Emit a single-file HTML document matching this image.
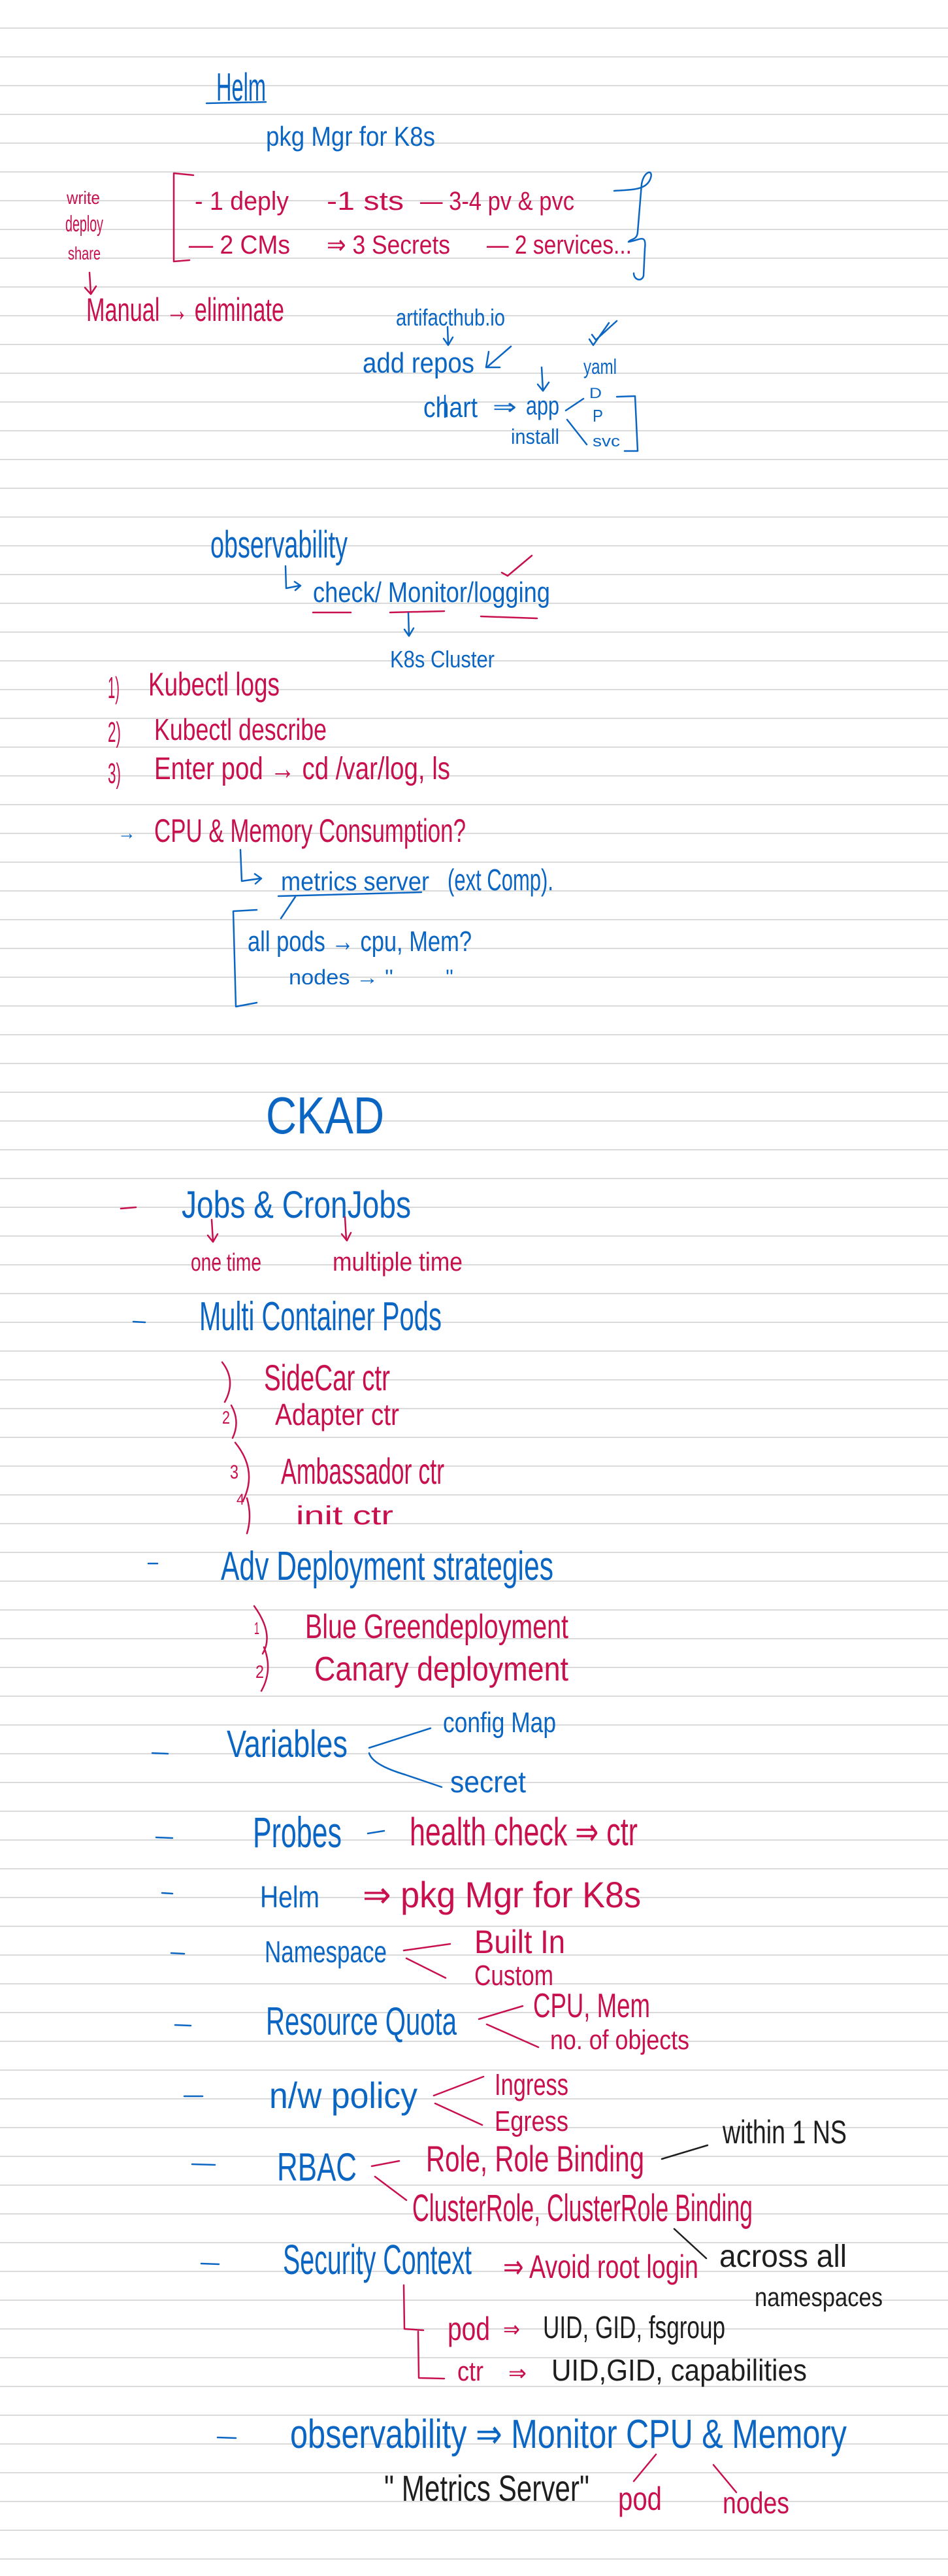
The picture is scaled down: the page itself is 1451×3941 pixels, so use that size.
<!DOCTYPE html>
<html><head><meta charset="utf-8"><style>
html,body{margin:0;padding:0;background:#fff}
svg{display:block}
text{font-family:"Liberation Sans",sans-serif}
.b{fill:#0b66c3}.r{fill:#c8104d}.k{fill:#1e1e1e}
.sb{stroke:#0b66c3;fill:none;stroke-width:2.5;stroke-linecap:round;stroke-linejoin:round}
.sr{stroke:#c8104d;fill:none;stroke-width:2.5;stroke-linecap:round;stroke-linejoin:round}
.sk{stroke:#1e1e1e;fill:none;stroke-width:2.5;stroke-linecap:round}
</style></head><body>
<svg width="1451" height="3941" viewBox="0 0 1451 3941" xmlns="http://www.w3.org/2000/svg" lengthAdjust="spacingAndGlyphs">
<g stroke="#dadada" stroke-width="2" id="lines">
</g>
<script>/* no-op */</script>
<g>
<!-- ruled lines -->
<path stroke="#dadada" stroke-width="2" fill="none" d="
M0 43H1451M0 87H1451M0 131H1451M0 175H1451M0 219H1451M0 263H1451M0 307H1451M0 351H1451M0 395H1451M0 439H1451
M0 483H1451M0 527H1451M0 571H1451M0 615H1451M0 659H1451M0 703H1451M0 747H1451M0 791H1451M0 835H1451M0 879H1451
M0 923H1451M0 967H1451M0 1011H1451M0 1055H1451M0 1099H1451M0 1143H1451M0 1187H1451M0 1231H1451M0 1275H1451M0 1319H1451
M0 1363H1451M0 1407H1451M0 1451H1451M0 1495H1451M0 1539H1451M0 1583H1451M0 1627H1451M0 1671H1451M0 1715H1451M0 1759H1451
M0 1803H1451M0 1847H1451M0 1891H1451M0 1935H1451M0 1979H1451M0 2023H1451M0 2067H1451M0 2111H1451M0 2155H1451M0 2199H1451
M0 2243H1451M0 2287H1451M0 2331H1451M0 2375H1451M0 2419H1451M0 2463H1451M0 2507H1451M0 2551H1451M0 2595H1451M0 2639H1451
M0 2683H1451M0 2727H1451M0 2771H1451M0 2815H1451M0 2859H1451M0 2903H1451M0 2947H1451M0 2991H1451M0 3035H1451M0 3079H1451
M0 3123H1451M0 3167H1451M0 3211H1451M0 3255H1451M0 3299H1451M0 3343H1451M0 3387H1451M0 3431H1451M0 3475H1451M0 3519H1451
M0 3563H1451M0 3607H1451M0 3651H1451M0 3695H1451M0 3739H1451M0 3783H1451M0 3827H1451M0 3871H1451M0 3915H1451"/>
</g>

<!-- HELM section -->
<text class="b" x="331" y="154" font-size="60" textLength="76" lengthAdjust="spacingAndGlyphs">Helm</text>
<path class="sb" d="M316 158 L407 156"/>
<text class="b" x="407" y="223" font-size="42" textLength="259" lengthAdjust="spacingAndGlyphs">pkg Mgr for K8s</text>
<text class="r" x="102" y="312" font-size="28" textLength="51" lengthAdjust="spacingAndGlyphs">write</text>
<text class="r" x="100" y="354" font-size="34" textLength="58" lengthAdjust="spacingAndGlyphs">deploy</text>
<text class="r" x="104" y="397" font-size="28" textLength="50" lengthAdjust="spacingAndGlyphs">share</text>
<path class="sr" d="M296 268 L266 265 L266 400 L290 398"/>
<text class="r" x="298" y="321" font-size="40" textLength="144" lengthAdjust="spacingAndGlyphs">- 1 deply</text>
<text class="r" x="500" y="321" font-size="40" textLength="118" lengthAdjust="spacingAndGlyphs">-1 sts</text>
<text class="r" x="643" y="321" font-size="40" textLength="236" lengthAdjust="spacingAndGlyphs">— 3-4 pv &amp; pvc</text>
<text class="r" x="289" y="388" font-size="40" textLength="155" lengthAdjust="spacingAndGlyphs">— 2 CMs</text>
<text class="r" x="500" y="388" font-size="40" textLength="189" lengthAdjust="spacingAndGlyphs">⇒ 3 Secrets</text>
<text class="r" x="745" y="388" font-size="40" textLength="222" lengthAdjust="spacingAndGlyphs">— 2 services...</text>
<path class="sb" d="M940 292 C965 290 990 292 996 272 C1000 258 985 262 982 282 L976 355 C975 368 965 365 962 370 C978 368 990 356 987 380 L985 422 C982 432 970 428 970 418"/>
<path class="sr" d="M137 417 L139 449 M130 440 L139 450 L147 438"/>
<text class="r" x="132" y="491" font-size="50" textLength="303" lengthAdjust="spacingAndGlyphs">Manual → eliminate</text>
<text class="b" x="606" y="498" font-size="36" textLength="167" lengthAdjust="spacingAndGlyphs">artifacthub.io</text>
<path class="sb" d="M685 500 L686 527 M679 518 L686 528 L693 516"/>
<text class="b" x="555" y="570" font-size="44" textLength="171" lengthAdjust="spacingAndGlyphs">add repos</text>
<path class="sb" d="M782 530 L745 562 M748 538 L744 562 L765 562"/>
<path class="sb" d="M902 519 L908 528 L932 494 M906 512 L912 520 L944 491"/>
<text class="b" x="893" y="572" font-size="32" textLength="51" lengthAdjust="spacingAndGlyphs">yaml</text>
<path class="sb" d="M829 562 L831 597 M823 588 L831 598 L840 585"/>
<path class="sb" d="M681 605 L681 638"/>
<text class="b" x="648" y="638" font-size="44" textLength="83" lengthAdjust="spacingAndGlyphs">chart</text>
<text class="b" x="754" y="634" font-size="34" textLength="37" lengthAdjust="spacingAndGlyphs">⇒</text>
<text class="b" x="805" y="634" font-size="40" textLength="51" lengthAdjust="spacingAndGlyphs">app</text>
<text class="b" x="782" y="679" font-size="32" textLength="74" lengthAdjust="spacingAndGlyphs">install</text>
<path class="sb" d="M866 628 L893 610 M868 642 L898 680"/>
<text class="b" x="902" y="609" font-size="22" textLength="19" lengthAdjust="spacingAndGlyphs">D</text>
<text class="b" x="907" y="645" font-size="26" textLength="16" lengthAdjust="spacingAndGlyphs">P</text>
<text class="b" x="907" y="683" font-size="24" textLength="42" lengthAdjust="spacingAndGlyphs">svc</text>
<path class="sb" d="M944 607 L972 606 L976 690 L956 690"/>

<!-- Observability -->
<text class="b" x="322" y="853" font-size="58" textLength="210" lengthAdjust="spacingAndGlyphs">observability</text>
<path class="sb" d="M437 866 L438 900 L458 896 M451 890 L460 896 L452 903"/>
<text class="b" x="479" y="921" font-size="44" textLength="363" lengthAdjust="spacingAndGlyphs">check/ Monitor/logging</text>
<path class="sr" d="M479 937 L537 937 M597 937 L680 935 M736 943 L822 946"/>
<path class="sr" d="M768 876 L777 881 L814 850"/>
<path class="sb" d="M625 938 L626 972 M619 963 L626 973 L633 961"/>
<text class="b" x="597" y="1021" font-size="36" textLength="160" lengthAdjust="spacingAndGlyphs">K8s Cluster</text>
<text class="r" x="165" y="1068" font-size="46" textLength="18" lengthAdjust="spacingAndGlyphs">1)</text>
<text class="r" x="227" y="1064" font-size="50" textLength="201" lengthAdjust="spacingAndGlyphs">Kubectl logs</text>
<text class="r" x="165" y="1135" font-size="44" textLength="20" lengthAdjust="spacingAndGlyphs">2)</text>
<text class="r" x="236" y="1132" font-size="46" textLength="264" lengthAdjust="spacingAndGlyphs">Kubectl describe</text>
<text class="r" x="165" y="1198" font-size="44" textLength="20" lengthAdjust="spacingAndGlyphs">3)</text>
<text class="r" x="236" y="1192" font-size="48" textLength="453" lengthAdjust="spacingAndGlyphs">Enter pod → cd /var/log, ls</text>
<text class="b" x="180" y="1284" font-size="30" textLength="28" lengthAdjust="spacingAndGlyphs">→</text>
<text class="r" x="236" y="1288" font-size="50" textLength="477" lengthAdjust="spacingAndGlyphs">CPU &amp; Memory Consumption?</text>
<path class="sb" d="M368 1300 L370 1348 L398 1344 M390 1337 L400 1344 L391 1352"/>
<text class="b" x="430" y="1362" font-size="40" textLength="227" lengthAdjust="spacingAndGlyphs">metrics server</text>
<path class="sb" d="M426 1371 L645 1365 M452 1372 L430 1405"/>
<text class="b" x="685" y="1362" font-size="46" textLength="162" lengthAdjust="spacingAndGlyphs">(ext Comp).</text>
<path class="sb" d="M393 1392 L357 1394 L361 1540 L393 1534"/>
<text class="b" x="379" y="1455" font-size="44" textLength="343" lengthAdjust="spacingAndGlyphs">all pods → cpu, Mem?</text>
<text class="b" x="442" y="1506" font-size="32" textLength="160" lengthAdjust="spacingAndGlyphs">nodes → ''</text>
<text class="b" x="682" y="1506" font-size="32" textLength="12" lengthAdjust="spacingAndGlyphs">''</text>

<!-- CKAD -->
<text class="b" x="407" y="1734" font-size="80" textLength="181" lengthAdjust="spacingAndGlyphs">CKAD</text>
<path class="sr" d="M185 1849 L208 1847"/>
<text class="b" x="278" y="1863" font-size="58" textLength="351" lengthAdjust="spacingAndGlyphs">Jobs &amp; CronJobs</text>
<path class="sr" d="M324 1866 L326 1899 M318 1890 L326 1900 L333 1888 M528 1862 L530 1897 M523 1888 L531 1898 L537 1886"/>
<text class="r" x="292" y="1944" font-size="38" textLength="108" lengthAdjust="spacingAndGlyphs">one time</text>
<text class="r" x="509" y="1944" font-size="40" textLength="199" lengthAdjust="spacingAndGlyphs">multiple time</text>
<path class="sb" d="M204 2022 L222 2023"/>
<text class="b" x="305" y="2035" font-size="62" textLength="371" lengthAdjust="spacingAndGlyphs">Multi Container Pods</text>
<path class="sr" d="M340 2084 Q362 2112 344 2145"/>
<text class="r" x="404" y="2127" font-size="56" textLength="193" lengthAdjust="spacingAndGlyphs">SideCar ctr</text>
<text class="r" x="340" y="2178" font-size="28" textLength="12" lengthAdjust="spacingAndGlyphs">2</text>
<path class="sr" d="M354 2150 Q368 2175 356 2200"/>
<text class="r" x="421" y="2180" font-size="46" textLength="190" lengthAdjust="spacingAndGlyphs">Adapter ctr</text>
<text class="r" x="352" y="2262" font-size="30" textLength="13" lengthAdjust="spacingAndGlyphs">3</text>
<path class="sr" d="M360 2207 Q395 2250 372 2296"/>
<text class="r" x="430" y="2270" font-size="56" textLength="250" lengthAdjust="spacingAndGlyphs">Ambassador ctr</text>
<text class="r" x="362" y="2302" font-size="24" textLength="12" lengthAdjust="spacingAndGlyphs">4</text>
<path class="sr" d="M378 2292 Q386 2320 378 2346"/>
<text class="r" x="453" y="2332" font-size="40" textLength="149" lengthAdjust="spacingAndGlyphs">init ctr</text>
<path class="sb" d="M227 2392 L241 2392"/>
<text class="b" x="338" y="2417" font-size="62" textLength="509" lengthAdjust="spacingAndGlyphs">Adv Deployment strategies</text>
<text class="r" x="389" y="2500" font-size="26" textLength="8" lengthAdjust="spacingAndGlyphs">1</text>
<path class="sr" d="M389 2457 Q420 2500 402 2530 M404 2520 Q418 2555 400 2587"/>
<text class="r" x="467" y="2506" font-size="52" textLength="403" lengthAdjust="spacingAndGlyphs">Blue Greendeployment</text>
<text class="r" x="391" y="2567" font-size="28" textLength="13" lengthAdjust="spacingAndGlyphs">2</text>
<text class="r" x="481" y="2571" font-size="52" textLength="389" lengthAdjust="spacingAndGlyphs">Canary deployment</text>
<path class="sb" d="M233 2682 L257 2683"/>
<text class="b" x="347" y="2688" font-size="58" textLength="185" lengthAdjust="spacingAndGlyphs">Variables</text>
<path class="sb" d="M565 2674 L659 2644 M565 2682 Q570 2700 620 2715 L676 2734"/>
<text class="b" x="678" y="2650" font-size="44" textLength="173" lengthAdjust="spacingAndGlyphs">config Map</text>
<text class="b" x="689" y="2742" font-size="46" textLength="116" lengthAdjust="spacingAndGlyphs">secret</text>
<path class="sb" d="M239 2811 L264 2812"/>
<text class="b" x="387" y="2826" font-size="66" textLength="136" lengthAdjust="spacingAndGlyphs">Probes</text>
<path class="sb" d="M563 2805 L588 2801"/>
<text class="r" x="627" y="2823" font-size="60" textLength="349" lengthAdjust="spacingAndGlyphs">health check ⇒ ctr</text>
<path class="sb" d="M248 2896 L264 2897"/>
<text class="b" x="398" y="2918" font-size="46" textLength="91" lengthAdjust="spacingAndGlyphs">Helm</text>
<text class="r" x="555" y="2918" font-size="56" textLength="426" lengthAdjust="spacingAndGlyphs">⇒ pkg Mgr for K8s</text>
<path class="sb" d="M262 2988 L282 2989"/>
<text class="b" x="405" y="3002" font-size="46" textLength="187" lengthAdjust="spacingAndGlyphs">Namespace</text>
<path class="sr" d="M618 2984 L689 2974 M622 2996 L682 3026"/>
<text class="r" x="726" y="2988" font-size="50" textLength="139" lengthAdjust="spacingAndGlyphs">Built In</text>
<text class="r" x="726" y="3037" font-size="44" textLength="121" lengthAdjust="spacingAndGlyphs">Custom</text>
<path class="sb" d="M268 3098 L292 3099"/>
<text class="b" x="407" y="3113" font-size="60" textLength="292" lengthAdjust="spacingAndGlyphs">Resource Quota</text>
<path class="sr" d="M733 3089 L800 3069 M745 3097 L824 3132"/>
<text class="r" x="816" y="3086" font-size="52" textLength="179" lengthAdjust="spacingAndGlyphs">CPU, Mem</text>
<text class="r" x="842" y="3135" font-size="42" textLength="213" lengthAdjust="spacingAndGlyphs">no. of objects</text>
<path class="sb" d="M282 3207 L310 3207"/>
<text class="b" x="412" y="3225" font-size="56" textLength="227" lengthAdjust="spacingAndGlyphs">n/w policy</text>
<path class="sr" d="M664 3206 L740 3177 M666 3218 L738 3251"/>
<text class="r" x="757" y="3205" font-size="46" textLength="113" lengthAdjust="spacingAndGlyphs">Ingress</text>
<text class="r" x="757" y="3260" font-size="44" textLength="113" lengthAdjust="spacingAndGlyphs">Egress</text>
<path class="sb" d="M294 3311 L329 3312"/>
<text class="b" x="424" y="3336" font-size="60" textLength="122" lengthAdjust="spacingAndGlyphs">RBAC</text>
<path class="sr" d="M569 3314 L611 3306 M574 3330 L622 3366"/>
<text class="r" x="652" y="3322" font-size="56" textLength="334" lengthAdjust="spacingAndGlyphs">Role, Role Binding</text>
<path class="sk" d="M1013 3303 L1083 3282"/>
<text class="k" x="1106" y="3279" font-size="50" textLength="190" lengthAdjust="spacingAndGlyphs">within 1 NS</text>
<text class="r" x="631" y="3398" font-size="58" textLength="521" lengthAdjust="spacingAndGlyphs">ClusterRole, ClusterRole Binding</text>
<path class="sk" d="M1032 3410 L1081 3455"/>
<text class="k" x="1101" y="3468" font-size="48" textLength="195" lengthAdjust="spacingAndGlyphs">across all</text>
<text class="k" x="1155" y="3528" font-size="40" textLength="196" lengthAdjust="spacingAndGlyphs">namespaces</text>
<path class="sb" d="M308 3463 L335 3464"/>
<text class="b" x="433" y="3479" font-size="64" textLength="289" lengthAdjust="spacingAndGlyphs">Security Context</text>
<text class="r" x="770" y="3485" font-size="50" textLength="299" lengthAdjust="spacingAndGlyphs">⇒ Avoid root login</text>
<path class="sr" d="M618 3496 L619 3563 L648 3565 M640 3567 L641 3638 L680 3639"/>
<text class="r" x="685" y="3580" font-size="50" textLength="65" lengthAdjust="spacingAndGlyphs">pod</text>
<text class="r" x="770" y="3575" font-size="34" textLength="26" lengthAdjust="spacingAndGlyphs">⇒</text>
<text class="k" x="831" y="3577" font-size="48" textLength="279" lengthAdjust="spacingAndGlyphs">UID, GID, fsgroup</text>
<text class="r" x="700" y="3642" font-size="42" textLength="40" lengthAdjust="spacingAndGlyphs">ctr</text>
<text class="r" x="778" y="3642" font-size="34" textLength="28" lengthAdjust="spacingAndGlyphs">⇒</text>
<text class="k" x="844" y="3642" font-size="46" textLength="391" lengthAdjust="spacingAndGlyphs">UID,GID, capabilities</text>
<path class="sb" d="M333 3729 L361 3730"/>
<text class="b" x="444" y="3745" font-size="62" textLength="852" lengthAdjust="spacingAndGlyphs">observability ⇒ Monitor CPU &amp; Memory</text>
<text class="k" x="588" y="3826" font-size="56" textLength="314" lengthAdjust="spacingAndGlyphs">" Metrics Server"</text>
<path class="sr" d="M1004 3755 L970 3796 M1092 3771 L1127 3813"/>
<text class="r" x="946" y="3840" font-size="50" textLength="67" lengthAdjust="spacingAndGlyphs">pod</text>
<text class="r" x="1106" y="3845" font-size="46" textLength="102" lengthAdjust="spacingAndGlyphs">nodes</text>
</svg>
</body></html>
